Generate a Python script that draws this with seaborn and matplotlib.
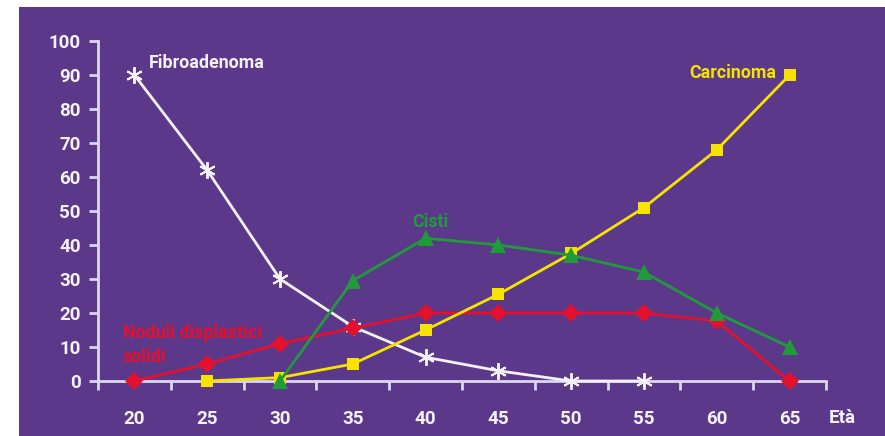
import matplotlib
matplotlib.use("Agg")
import matplotlib.pyplot as plt
import seaborn as sns
import pandas as pd
import numpy as np
from matplotlib.patches import Rectangle

ages = [20, 25, 30, 35, 40, 45, 50, 55, 60, 65]
fibro_ages = [20, 25, 30, 35, 40, 45, 50, 55]
fibro_vals = [90, 62, 30, 16, 7, 3, 0, 0]
noduli_ages = [20, 25, 30, 35, 40, 45, 50, 55, 60, 65]
noduli_vals = [0, 5, 11, 15.5, 20, 20, 20, 20, 17.6, 0]
carc_ages = [25, 30, 35, 40, 45, 50, 55, 60, 65]
carc_vals = [0, 1, 5, 15, 25.5, 37.5, 51, 68, 90]
cisti_ages = [30, 35, 40, 45, 50, 55, 60, 65]
cisti_vals = [0, 29.5, 42, 40, 37, 32, 20, 10]
yticks = [0, 10, 20, 30, 40, 50, 60, 70, 80, 90, 100]

BG = "#5c388b"
WHITE = "#f4f2f8"
RED = "#e3102e"
YEL = "#f6e400"
GRN = "#1f9b3a"
AXC = "#ddd6ef"

sns.set_style("white")
plt.rcParams['font.family'] = ['Roboto', 'DejaVu Sans']
plt.rcParams['font.weight'] = 'bold'

W, H = 885, 436
fig = plt.figure(figsize=(W / 100, H / 100), dpi=100, facecolor="white")
bgrect = Rectangle((19 / W, 0), (W - 19) / W, (H - 7) / H,
                   transform=fig.transFigure, facecolor=BG,
                   edgecolor="none", zorder=-10)
fig.patches.append(bgrect)
ax = fig.add_axes([98 / W, (H - 381) / H, (826 - 98) / W, (381 - 41) / H])
ax.set_facecolor("none")
ax.set_zorder(5)

series = [
    (fibro_ages, fibro_vals, WHITE, (6, 2, 0), 12, 1.4, 3),
    (noduli_ages, noduli_vals, RED, "D", 9, 0, 4),
    (carc_ages, carc_vals, YEL, "s", 9, 0, 5),
    (cisti_ages, cisti_vals, GRN, "^", 11, 0, 6),
]
for xs, ys, col, mk, ms, mew, z in series:
    df = pd.DataFrame({"age": xs, "val": ys})
    sns.lineplot(data=df, x="age", y="val", ax=ax, color=col, lw=2.0,
                 marker=mk, markersize=ms, markeredgewidth=mew,
                 markeredgecolor=col, markerfacecolor=col, zorder=z,
                 clip_on=False)

ax.set_xlim(17.5, 67.5)
ax.set_ylim(0, 100)
ax.set_xlabel("")
ax.set_ylabel("")

for s in ["top", "right"]:
    ax.spines[s].set_visible(False)
for s in ["left", "bottom"]:
    ax.spines[s].set_color(AXC)
    ax.spines[s].set_linewidth(2)
    ax.spines[s].set_zorder(2)

ax.set_yticks(yticks)
ax.set_yticklabels([str(v) for v in yticks])
ax.tick_params(axis="y", left=True, direction="out", length=6.5, width=2,
               color=AXC, labelcolor=WHITE, labelsize=13.5, pad=6)
ax.set_xticks(ages)
ax.set_xticklabels([str(a) for a in ages])
ax.tick_params(axis="x", which="major", bottom=True, length=0,
               labelcolor=WHITE, labelsize=13.5, pad=21)
ax.set_xticks(np.arange(17.5, 68, 5), minor=True)
ax.tick_params(axis="x", which="minor", bottom=True, direction="out",
               length=6.5, width=2, color=AXC)
for lab in ax.get_xticklabels() + ax.get_yticklabels():
    lab.set_fontweight("bold")

ax.text(67.7, -11.0, "Età", color=WHITE, fontsize=13.5, fontweight="bold",
        ha="left", va="center")
ax.text(21.0, 93.5, "Fibroadenoma", color=WHITE, fontsize=12.8,
        fontweight="bold", ha="left", va="center")
ax.text(64.1, 90.6, "Carcinoma", color=YEL, fontsize=12.8,
        fontweight="bold", ha="right", va="center")
ax.text(40.3, 46.8, "Cisti", color=GRN, fontsize=12.8,
        fontweight="bold", ha="center", va="center")
ax.text(19.2, 10.6, "Noduli displastici\nsolidi", color=RED, fontsize=12.8,
        fontweight="bold", ha="left", va="center", linespacing=1.4)

fig.savefig("out.png", dpi=100, facecolor="white")
